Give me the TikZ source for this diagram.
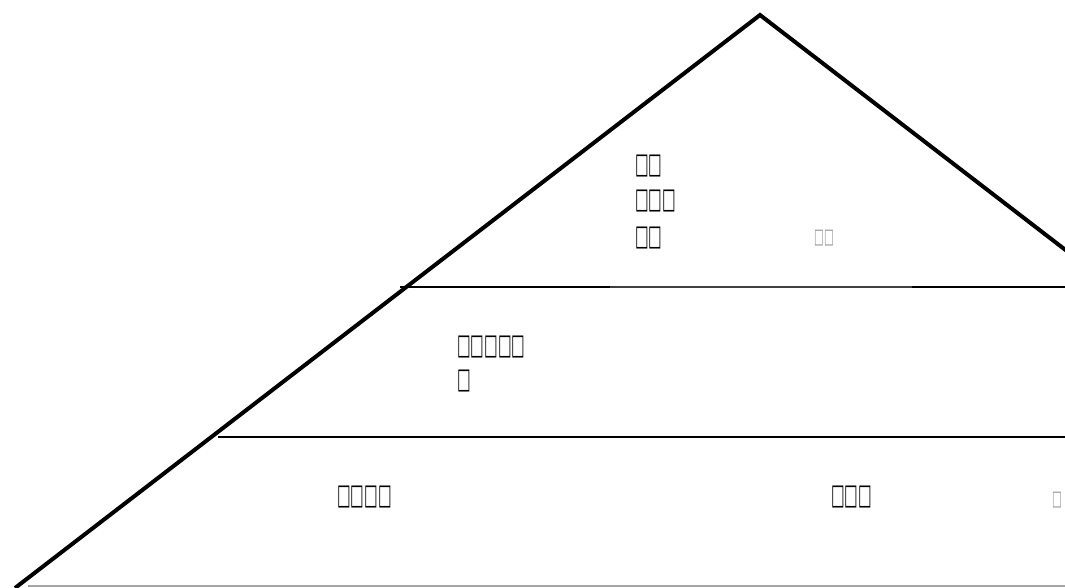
\documentclass[tikz,border=0pt]{standalone}
\usepackage{graphicx}
\usepackage{fontspec}
\newfontfamily\boxfont{DejaVu Sans}
\newcommand{\tofu}[1]{\scalebox{0.8}[1.6]{#1}}
\begin{document}
\begin{tikzpicture}[x=1pt,y=-1pt,
  edge/.style={line width=4pt,line join=miter},
  tier/.style={line width=2.8pt},
  thin/.style={line width=1.3pt,black!75},
  base/.style={line width=1.8pt,black!35},
  lbl/.style={anchor=west,inner sep=0pt,font=\boxfont\fontsize{18}{18}\selectfont,text=black},
  small/.style={anchor=west,inner sep=0pt,font=\boxfont\fontsize{13}{13}\selectfont,text=black!40}]
\useasboundingbox (0,0) rectangle (1065,588);
\begin{scope}
\clip (0,0) rectangle (1065,588);
\coordinate (apex) at (760,15);
\coordinate (bl) at (15,588);
\coordinate (br) at (1505,588);
\draw[edge] (bl) -- (apex) -- (br);
\coordinate (a1) at (400,287);
\coordinate (a2) at (610,287);
\coordinate (a3) at (912,287);
\coordinate (a4) at (1070,287);
\draw[tier] (a1) -- (a2);
\draw[thin] (a2) -- (a3);
\draw[tier] (a3) -- (a4);
\coordinate (b1) at (218,437);
\coordinate (b2) at (1070,437);
\draw[tier] (b1) -- (b2);
\coordinate (c1) at (28,586);
\coordinate (c2) at (1070,586);
\draw[base] (c1) -- (c2);
\end{scope}
\node[lbl] (t1) at (635,166) {\tofu{□□}};
\node[lbl] (t2) at (635,201) {\tofu{□□□}};
\node[lbl] (t3) at (635,238) {\tofu{□□}};
\node[small] (t4) at (814,238) {\tofu{□□}};
\node[lbl] (m1) at (457,347) {\tofu{□□□□□}};
\node[lbl] (m2) at (457,381) {\tofu{□}};
\node[lbl] (l1) at (337,497) {\tofu{□□□□}};
\node[lbl] (r1) at (831,497) {\tofu{□□□}};
\node[small] (r2) at (1052,500) {\tofu{□}};
\end{tikzpicture}
\end{document}
